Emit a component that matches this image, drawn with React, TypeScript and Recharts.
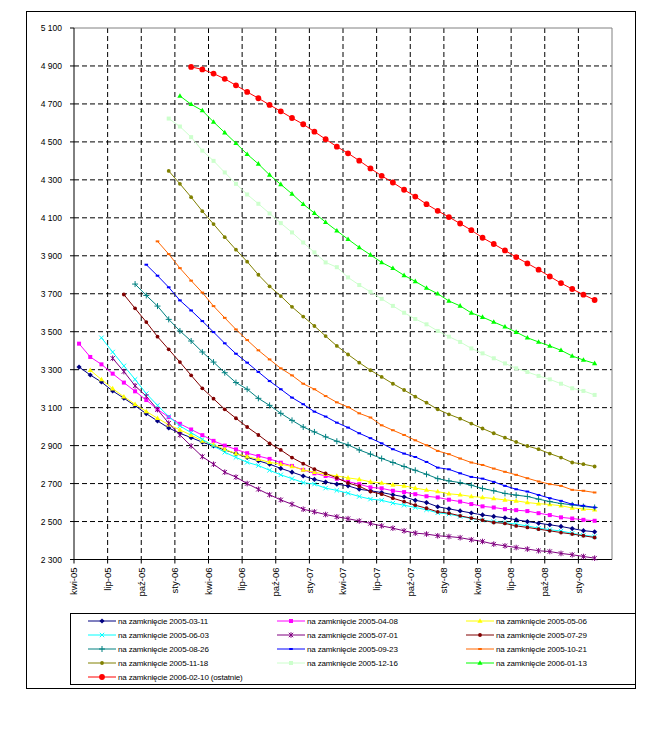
import { LineChart, Line, XAxis, YAxis, CartesianGrid, ReferenceLine } from "recharts";

// month index 0 = kwi-05, labels every 3 months
const tickLabels = ["kwi-05", "lip-05", "paź-05", "sty-06", "kwi-06", "lip-06", "paź-06", "sty-07", "kwi-07", "lip-07", "paź-07", "sty-08", "kwi-08", "lip-08", "paź-08", "sty-09"];
const yTicks = [2300, 2500, 2700, 2900, 3100, 3300, 3500, 3700, 3900, 4100, 4300, 4500, 4700, 4900, 5100];

// each curve: first contract month index + monthly prices
const curve0311 = [3314, 3272, 3235, 3188, 3150, 3110, 3068, 3030, 2993, 2965, 2942, 2918, 2898, 2877, 2858, 2838, 2820, 2802, 2780, 2760, 2740, 2722, 2708, 2697, 2688, 2670, 2662, 2653, 2641, 2630, 2612, 2600, 2578, 2567, 2556, 2545, 2535, 2527, 2520, 2509, 2500, 2491, 2483, 2474, 2463, 2452, 2446];
const curve0408 = [3437, 3367, 3328, 3279, 3232, 3186, 3140, 3091, 3050, 3015, 2985, 2955, 2925, 2900, 2880, 2860, 2845, 2830, 2810, 2793, 2772, 2754, 2740, 2725, 2710, 2697, 2680, 2675, 2662, 2655, 2644, 2633, 2627, 2615, 2605, 2592, 2580, 2574, 2565, 2560, 2555, 2544, 2534, 2522, 2516, 2509, 2504];
const curve0506 = [3297, 3248, 3200, 3157, 3118, 3080, 3044, 3010, 2983, 2955, 2925, 2905, 2880, 2858, 2842, 2828, 2812, 2802, 2790, 2772, 2760, 2750, 2740, 2730, 2722, 2709, 2703, 2693, 2688, 2676, 2666, 2658, 2646, 2641, 2632, 2627, 2621, 2614, 2609, 2600, 2594, 2590, 2583, 2572, 2566, 2562];
const curve0603 = [3468, 3393, 3320, 3249, 3174, 3112, 3053, 3004, 2968, 2933, 2898, 2865, 2838, 2812, 2795, 2770, 2746, 2726, 2705, 2697, 2676, 2664, 2649, 2632, 2618, 2612, 2597, 2586, 2574, 2562, 2546, 2539, 2527, 2516, 2507, 2500, 2494, 2486, 2477, 2465, 2457, 2450, 2438, 2428, 2421];
const curve0701 = [3360, 3290, 3215, 3160, 3090, 3018, 2956, 2898, 2842, 2802, 2760, 2734, 2700, 2670, 2641, 2614, 2591, 2565, 2551, 2537, 2525, 2515, 2503, 2490, 2477, 2465, 2451, 2439, 2434, 2425, 2421, 2415, 2404, 2395, 2381, 2372, 2363, 2355, 2346, 2342, 2332, 2325, 2316, 2307];
const curve0729 = [3696, 3623, 3551, 3474, 3407, 3340, 3270, 3202, 3147, 3091, 3044, 2998, 2956, 2912, 2877, 2837, 2805, 2776, 2753, 2730, 2703, 2686, 2658, 2644, 2623, 2605, 2586, 2570, 2551, 2544, 2530, 2518, 2507, 2495, 2490, 2477, 2469, 2460, 2451, 2442, 2434, 2425, 2416];
const curve0826 = [3751, 3691, 3635, 3565, 3504, 3451, 3393, 3340, 3284, 3232, 3197, 3149, 3112, 3070, 3033, 2998, 2972, 2946, 2923, 2904, 2877, 2855, 2832, 2811, 2790, 2770, 2749, 2726, 2714, 2705, 2691, 2674, 2662, 2648, 2639, 2632, 2618, 2605, 2595, 2588, 2579, 2574];
const curve0923 = [3853, 3795, 3734, 3665, 3612, 3556, 3498, 3439, 3384, 3337, 3288, 3240, 3197, 3153, 3118, 3079, 3053, 3021, 2995, 2965, 2939, 2912, 2881, 2858, 2840, 2814, 2784, 2775, 2754, 2735, 2726, 2709, 2688, 2670, 2658, 2640, 2623, 2609, 2591, 2583, 2574];
const curve1021 = [3976, 3909, 3835, 3769, 3706, 3635, 3573, 3512, 3456, 3402, 3354, 3307, 3270, 3226, 3197, 3161, 3128, 3103, 3070, 3048, 3007, 2981, 2956, 2928, 2902, 2872, 2855, 2832, 2811, 2798, 2779, 2762, 2746, 2728, 2711, 2697, 2688, 2667, 2662, 2653];
const curve1118 = [4347, 4279, 4209, 4135, 4067, 3998, 3932, 3869, 3800, 3739, 3688, 3631, 3580, 3530, 3477, 3425, 3380, 3337, 3297, 3262, 3226, 3193, 3158, 3126, 3091, 3065, 3042, 3016, 2990, 2965, 2942, 2919, 2898, 2881, 2858, 2837, 2811, 2802, 2790];
const curve1216 = [4623, 4581, 4525, 4454, 4400, 4339, 4279, 4223, 4174, 4123, 4072, 4023, 3970, 3918, 3865, 3840, 3786, 3746, 3710, 3673, 3636, 3600, 3567, 3539, 3504, 3474, 3446, 3412, 3386, 3360, 3333, 3307, 3288, 3267, 3249, 3226, 3202, 3188, 3167];
const curve0113 = [4742, 4698, 4665, 4605, 4549, 4493, 4435, 4384, 4326, 4276, 4226, 4172, 4125, 4077, 4032, 3987, 3944, 3905, 3865, 3834, 3797, 3765, 3730, 3700, 3662, 3636, 3599, 3577, 3551, 3526, 3498, 3468, 3446, 3425, 3402, 3372, 3351, 3333];
const curve0210 = [4895, 4882, 4860, 4832, 4798, 4763, 4730, 4695, 4661, 4626, 4593, 4554, 4514, 4475, 4440, 4401, 4360, 4321, 4286, 4248, 4212, 4172, 4137, 4104, 4070, 4035, 3995, 3962, 3928, 3893, 3860, 3827, 3791, 3756, 3725, 3695, 3667];

const series = [
  { key: "s0", name: "na zamknięcie 2005-03-11", color: "#000080", marker: "diamond", start: 0, values: curve0311 },
  { key: "s1", name: "na zamknięcie 2005-04-08", color: "#FF00FF", marker: "square", start: 0, values: curve0408 },
  { key: "s2", name: "na zamknięcie 2005-05-06", color: "#FFFF00", marker: "triangle", start: 1, values: curve0506 },
  { key: "s3", name: "na zamknięcie 2005-06-03", color: "#00FFFF", marker: "x", start: 2, values: curve0603 },
  { key: "s4", name: "na zamknięcie 2005-07-01", color: "#800080", marker: "star", start: 3, values: curve0701 },
  { key: "s5", name: "na zamknięcie 2005-07-29", color: "#800000", marker: "circle", start: 4, values: curve0729 },
  { key: "s6", name: "na zamknięcie 2005-08-26", color: "#008080", marker: "plus", start: 5, values: curve0826 },
  { key: "s7", name: "na zamknięcie 2005-09-23", color: "#0000FF", marker: "dash", start: 6, values: curve0923 },
  { key: "s8", name: "na zamknięcie 2005-10-21", color: "#FF6600", marker: "dash", start: 7, values: curve1021 },
  { key: "s9", name: "na zamknięcie 2005-11-18", color: "#808000", marker: "circle", start: 8, values: curve1118 },
  { key: "s10", name: "na zamknięcie 2005-12-16", color: "#CCFFCC", marker: "square", start: 8, values: curve1216 },
  { key: "s11", name: "na zamknięcie 2006-01-13", color: "#00FF00", marker: "triangle", start: 9, values: curve0113 },
  { key: "s12", name: "na zamknięcie 2006-02-10 (ostatnie)", color: "#FF0000", marker: "bigcircle", start: 10, values: curve0210 },
];

const MONTHS = 47;
const data = Array.from({ length: MONTHS }, (_, m) => {
  const row: any = { x: m + 0.45 };
  series.forEach((s) => {
    const i = m - s.start;
    row[s.key] = i >= 0 && i < s.values.length ? s.values[i] : null;
  });
  return row;
});

const FONT = "'Liberation Sans', Arial, sans-serif";

function marker(type: string, cx: number, cy: number, color: string, key?: any) {
  switch (type) {
    case "diamond":
      return <polygon key={key} points={`${cx},${cy - 2.6} ${cx + 2.6},${cy} ${cx},${cy + 2.6} ${cx - 2.6},${cy}`} fill={color} />;
    case "square":
      return <rect key={key} x={cx - 2} y={cy - 2} width={4} height={4} fill={color} />;
    case "triangle":
      return <polygon key={key} points={`${cx},${cy - 2.8} ${cx + 2.6},${cy + 1.8} ${cx - 2.6},${cy + 1.8}`} fill={color} />;
    case "x":
      return (
        <g key={key} stroke={color} strokeWidth={1}>
          <line x1={cx - 2.2} y1={cy - 2.2} x2={cx + 2.2} y2={cy + 2.2} />
          <line x1={cx - 2.2} y1={cy + 2.2} x2={cx + 2.2} y2={cy - 2.2} />
        </g>
      );
    case "star":
      return (
        <g key={key} stroke={color} strokeWidth={1}>
          <line x1={cx - 2.2} y1={cy - 2.2} x2={cx + 2.2} y2={cy + 2.2} />
          <line x1={cx - 2.2} y1={cy + 2.2} x2={cx + 2.2} y2={cy - 2.2} />
          <line x1={cx} y1={cy - 2.8} x2={cx} y2={cy + 2.8} />
        </g>
      );
    case "plus":
      return (
        <g key={key} stroke={color} strokeWidth={1}>
          <line x1={cx - 3} y1={cy} x2={cx + 3} y2={cy} />
          <line x1={cx} y1={cy - 3} x2={cx} y2={cy + 3} />
        </g>
      );
    case "dash":
      return <rect key={key} x={cx - 1.8} y={cy - 1} width={3.6} height={2} fill={color} />;
    case "circle":
      return <circle key={key} cx={cx} cy={cy} r={1.9} fill={color} />;
    case "bigcircle":
      return <circle key={key} cx={cx} cy={cy} r={2.9} fill={color} />;
    default:
      return <g key={key} />;
  }
}

const dotRenderer = (type: string, color: string, skey: string) => (props: any) => {
  const { cx, cy, value, index } = props;
  const k = `${skey}-${index}`;
  if (value == null || cx == null || cy == null || isNaN(cy)) return <g key={k} />;
  return marker(type, cx, cy, color, k);
};

const fmtY = (v: number) => {
  const s = String(v);
  return s.length > 3 ? s.slice(0, s.length - 3) + " " + s.slice(-3) : s;
};

const XTick = (props: any) => {
  const { x, y, payload } = props;
  const label = tickLabels[Math.round(payload.value / 3)];
  return (
    <text transform={`translate(${x},${y + 4}) rotate(-90)`} textAnchor="end" dy="0.35em" fontSize={9.5} fontFamily={FONT} fill="#000">
      {label}
    </text>
  );
};

const legendCols = [88, 277, 466];
const legendRows = [621, 635, 649, 663, 677];

export default function App() {
  return (
    <div style={{ position: "absolute", left: 0, top: 0, width: 665, height: 744, background: "#fff" }}>
      <div style={{ position: "absolute", left: 0, top: 0 }}>
        <LineChart width={665} height={620} data={data} margin={{ top: 28, right: 53, left: 24, bottom: 10.5 }}>
          <CartesianGrid
            stroke="#000"
            strokeDasharray="5 3"
            horizontalValues={[2500, 2700, 2900, 3100, 3300, 3500, 3700, 3900, 4100, 4300, 4500, 4700, 4900]}
            verticalValues={[3, 6, 9, 12, 15, 18, 21, 24, 27, 30, 33, 36, 39, 42, 45]}
          />
          <ReferenceLine y={5100} stroke="#808080" />
          <ReferenceLine x={48} stroke="#808080" />
          <XAxis
            type="number"
            dataKey="x"
            domain={[0, 48]}
            ticks={tickLabels.map((_, i) => i * 3)}
            interval={0}
            height={50}
            tickSize={4}
            tickMargin={0}
            stroke="#000"
            tickLine={{ stroke: "#000" }}
            tick={<XTick />}
            allowDataOverflow
          />
          <YAxis
            type="number"
            domain={[2300, 5100]}
            ticks={yTicks}
            interval={0}
            width={50}
            tickSize={4}
            tickMargin={8}
            stroke="#000"
            tickLine={{ stroke: "#000" }}
            tickFormatter={fmtY}
            tick={{ fontSize: 8.5, fontFamily: FONT, fill: "#000" }}
          />
          {series.map((s) => (
            <Line
              key={s.key}
              type="linear"
              dataKey={s.key}
              name={s.name}
              stroke={s.color}
              strokeWidth={1}
              dot={dotRenderer(s.marker, s.color, s.key)}
              activeDot={false}
              connectNulls={false}
              isAnimationActive={false}
            />
          ))}
        </LineChart>
      </div>
      <svg width={665} height={744} style={{ position: "absolute", left: 0, top: 0, pointerEvents: "none" }}>
        <rect x={26.5} y={11.5} width={609} height={677} fill="none" stroke="#000" strokeWidth={1} />
        <rect x={70.5} y={613.5} width={565} height={71} fill="none" stroke="#000" strokeWidth={1} />
        {series.map((s, i) => {
          const col = legendCols[i % 3];
          const y = legendRows[Math.floor(i / 3)];
          return (
            <g key={s.key}>
              <line x1={col} y1={y} x2={col + 28} y2={y} stroke={s.color} strokeWidth={1} />
              {marker(s.marker, col + 14, y, s.color)}
              <text x={col + 30} y={y} dy="0.35em" fontSize={8} letterSpacing={-0.15} fontFamily={FONT} fill="#000">
                {s.name}
              </text>
            </g>
          );
        })}
      </svg>
    </div>
  );
}
